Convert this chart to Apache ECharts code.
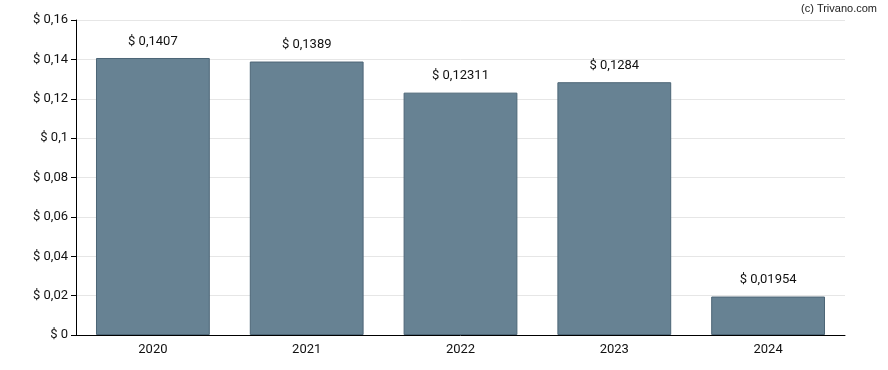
<!DOCTYPE html>
<html>
<head>
<meta charset="utf-8">
<script src="https://cdn.jsdelivr.net/npm/echarts@6/dist/echarts.min.js"></script>
<style>html,body{margin:0;padding:0;background:#fff}#c{width:888px;height:370px}</style>
</head>
<body>
<div id="c"></div>
<script>
var categories = ['2020', '2021', '2022', '2023', '2024'];
var values = [0.1407, 0.1389, 0.12311, 0.1284, 0.01954];
var valueLabels = ['$ 0,1407', '$ 0,1389', '$ 0,12311', '$ 0,1284', '$ 0,01954'];
var yTicks = [0, 0.02, 0.04, 0.06, 0.08, 0.1, 0.12, 0.14, 0.16];

function fmtY(v) {
  var s = String(Math.round(v * 100) / 100).replace('.', ',');
  return '$ ' + s;
}

var chart = echarts.init(document.getElementById('c'));
chart.setOption({
  animation: false,
  textStyle: { fontFamily: 'Roboto' },
  graphic: [{
    type: 'text', right: 11, top: 3,
    style: { text: '(c) Trivano.com', font: '11px Arial, "Liberation Sans"', fill: '#222' }
  }],
  grid: { left: 76, right: 43, top: 20, bottom: 35, containLabel: false },
  xAxis: {
    type: 'category',
    data: categories,
    axisLine: { lineStyle: { color: '#000', width: 1 } },
    axisTick: { alignWithLabel: true, length: 5, lineStyle: { color: '#000' } },
    axisLabel: { color: '#111', fontSize: 13, margin: 8 }
  },
  yAxis: {
    type: 'value',
    min: 0, max: 0.16, interval: 0.02,
    axisLine: { show: true, lineStyle: { color: '#000', width: 1 } },
    axisTick: { show: true, length: 5, lineStyle: { color: '#000' } },
    axisLabel: { color: '#111', fontSize: 13, margin: 8, formatter: fmtY },
    splitLine: { lineStyle: { color: '#e6e6e6' } }
  },
  series: [{
    type: 'bar',
    data: values,
    barWidth: '74%',
    itemStyle: { color: '#678293', borderColor: '#4d6677', borderWidth: 1, opacity: 1 },
    label: {
      show: true, position: 'top', distance: 10, color: '#111', fontSize: 13,
      formatter: function (p) { return valueLabels[p.dataIndex]; }
    }
  }]
});
</script>
</body>
</html>
